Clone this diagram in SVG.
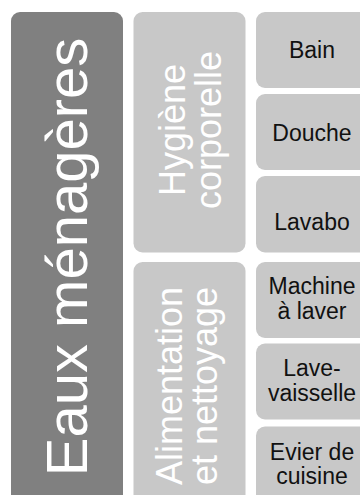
<svg xmlns="http://www.w3.org/2000/svg" width="360" height="495" viewBox="0 0 360 495">
<style>
.dark{fill:#808080}
.light{fill:#c8c8c8}
.vt{font-family:"Liberation Sans",Arial,sans-serif;fill:#ffffff;text-anchor:middle}
.lb{font-family:"Liberation Sans",Arial,sans-serif;fill:#111111;font-size:23px;text-anchor:middle}
</style>
<rect width="360" height="495" fill="#ffffff"/>
<g id="eaux">
<rect class="dark" x="11" y="12" width="112" height="492" rx="9"/>
<text class="vt" font-size="58" transform="translate(87,257) rotate(-90)">Eaux ménagères</text>
</g>
<g id="hygiene">
<rect class="light" x="133.5" y="12" width="112" height="240.5" rx="9"/>
<text class="vt" font-size="36" transform="translate(185,130) rotate(-90)">Hygiène</text>
<text class="vt" font-size="36" transform="translate(221,130) rotate(-90)">corporelle</text>
</g>
<g id="alimentation">
<rect class="light" x="133.5" y="262" width="112" height="242" rx="9"/>
<text class="vt" font-size="36" transform="translate(182,386) rotate(-90)">Alimentation</text>
<text class="vt" font-size="36" transform="translate(217,386) rotate(-90)">et nettoyage</text>
</g>
<g id="bain">
<rect class="light" x="256" y="12" width="112" height="76" rx="9"/>
<text class="lb" x="312" y="58.3">Bain</text>
</g>
<g id="douche">
<rect class="light" x="256" y="94" width="112" height="76" rx="9"/>
<text class="lb" x="312" y="140.5">Douche</text>
</g>
<g id="lavabo">
<rect class="light" x="256" y="176" width="112" height="76.5" rx="9"/>
<text class="lb" x="312" y="230">Lavabo</text>
</g>
<g id="machine">
<rect class="light" x="256" y="262" width="112" height="76" rx="9"/>
<text class="lb" x="312" y="294.3">Machine</text>
<text class="lb" x="312" y="319.3">à laver</text>
</g>
<g id="lave">
<rect class="light" x="256" y="343.5" width="112" height="76" rx="9"/>
<text class="lb" x="312" y="376">Lave-</text>
<text class="lb" x="312" y="401">vaisselle</text>
</g>
<g id="evier">
<rect class="light" x="256" y="426.5" width="112" height="77" rx="9"/>
<text class="lb" x="312" y="459.5">Evier de</text>
<text class="lb" x="312" y="484">cuisine</text>
</g>
<g id="connectors"></g>
</svg>
